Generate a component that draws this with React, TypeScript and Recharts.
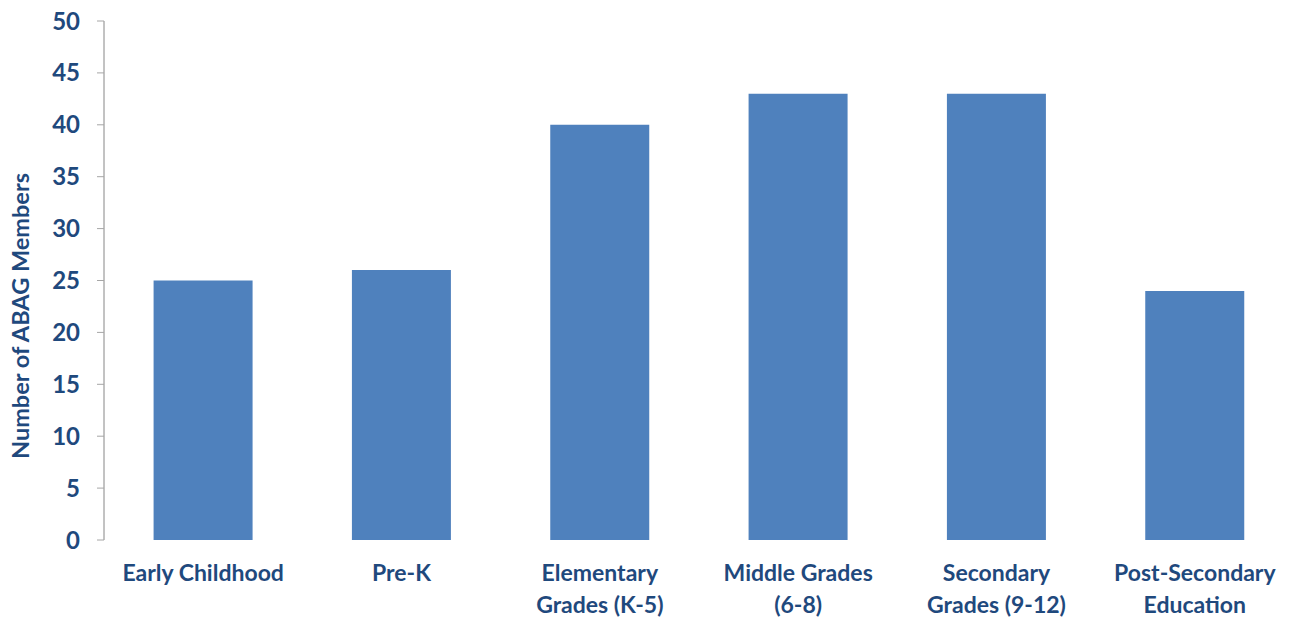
import { Bar, BarChart, XAxis, YAxis } from 'recharts';

// Colours (Office-style defaults).
const BAR_BLUE = '#4f81bd';
const TEXT_NAVY = '#1f497d';
const AXIS_GREY = '#868686';
const TICK_GREY = '#a6a6a6';
const FONT = 'Lato, "Open Sans", sans-serif';

const categories = [
  'Early Childhood',
  'Pre-K',
  'Elementary\nGrades (K-5)',
  'Middle Grades\n(6-8)',
  'Secondary\nGrades (9-12)',
  'Post-Secondary\nEducation',
];
const members = [25, 26, 40, 43, 43, 24];
const yTicks = [0, 5, 10, 15, 20, 25, 30, 35, 40, 45, 50];
const boundaryTicks = [0, 1, 2, 3, 4, 5, 6];

const data = categories.map((name, i) => ({ name, members: members[i] }));

function CategoryTick({ x, y, payload }: any) {
  const lines = String(payload.value).split('\n');
  return (
    <text
      x={x}
      y={y}
      textAnchor="middle"
      fill={TEXT_NAVY}
      fontFamily={FONT}
      fontWeight={700}
      fontSize={23}
    >
      {lines.map((line, i) => (
        <tspan key={i} x={x} dy={i === 0 ? 33 : 32}>
          {line}
        </tspan>
      ))}
    </text>
  );
}

function YTitle() {
  const cx = 20;
  const cy = 316;
  return (
    <text
      x={cx}
      y={cy}
      transform={`rotate(-90, ${cx}, ${cy})`}
      textAnchor="middle"
      dominantBaseline="central"
      fill={TEXT_NAVY}
      fontFamily={FONT}
      fontWeight={700}
      fontSize={23.5}
    >
      Number of ABAG Members
    </text>
  );
}

export default function App() {
  return (
    <div
      style={{
        position: 'absolute',
        left: 0,
        top: 0,
        width: 1290,
        height: 619,
        overflow: 'hidden',
        background: '#fff',
      }}
    >
      <BarChart
        width={1296}
        height={619}
        data={data}
        barCategoryGap="25%"
        margin={{ top: 21, right: 2, left: 0, bottom: 0 }}
      >
        {/* plain number axis only to draw the tick marks between categories */}
        <XAxis
          xAxisId="bounds"
          type="number"
          domain={[0, 6]}
          ticks={boundaryTicks}
          tick={false}
          tickSize={7}
          tickLine={{ stroke: TICK_GREY }}
          axisLine={{ stroke: AXIS_GREY }}
          height={0}
          allowDataOverflow
        />
        <XAxis
          xAxisId="cat"
          dataKey="name"
          interval={0}
          tickLine={false}
          axisLine={false}
          tick={<CategoryTick />}
          height={79}
        />
        <YAxis
          domain={[0, 50]}
          ticks={yTicks}
          interval={0}
          width={104}
          tickSize={7}
          tickMargin={17}
          tickLine={{ stroke: TICK_GREY }}
          axisLine={{ stroke: AXIS_GREY }}
          tick={{ fill: TEXT_NAVY, fontFamily: FONT, fontWeight: 700, fontSize: 24 }}
          label={<YTitle />}
        />
        <Bar dataKey="members" xAxisId="cat" fill={BAR_BLUE} isAnimationActive={false} />
      </BarChart>
    </div>
  );
}
